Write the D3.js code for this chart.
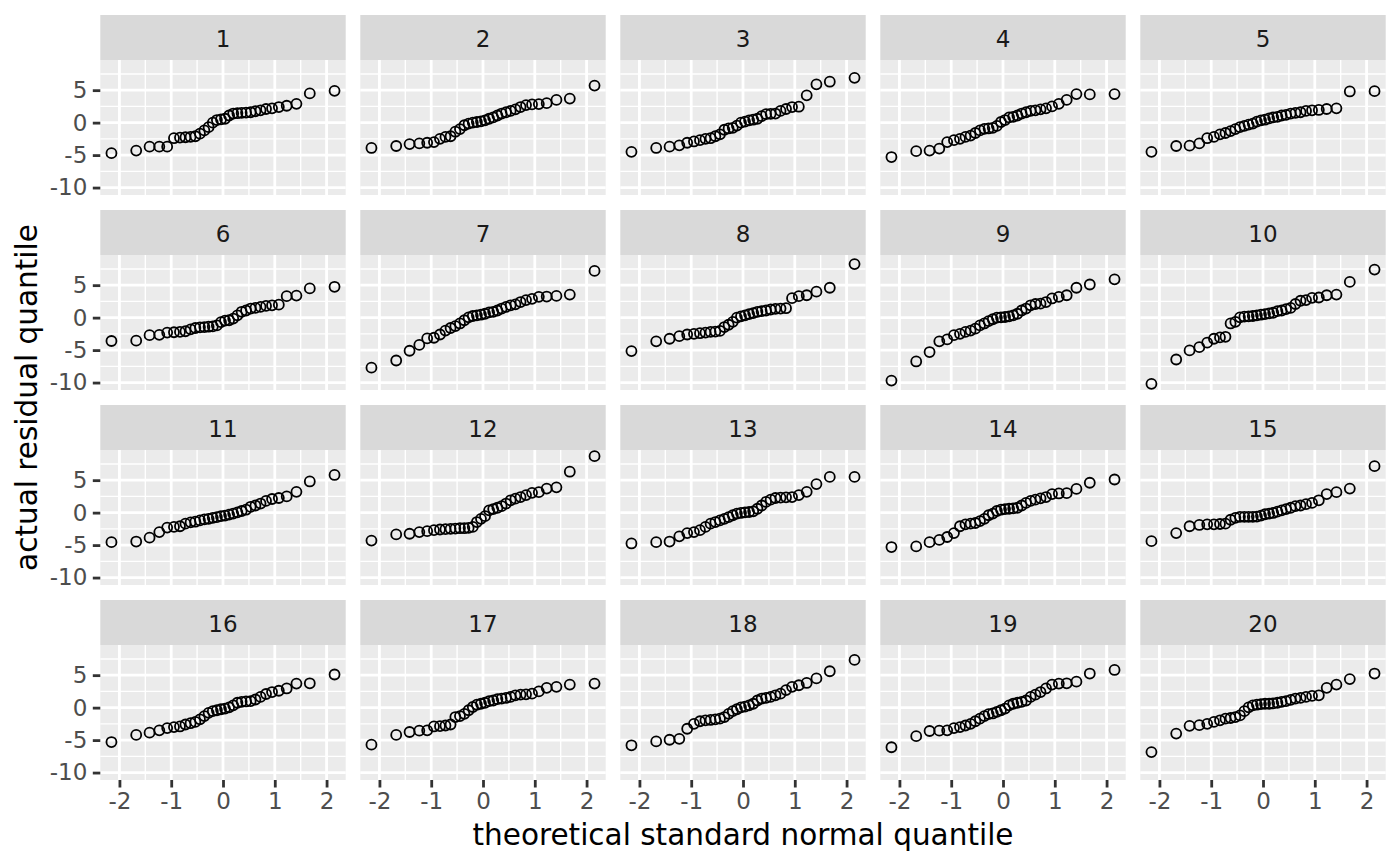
<!DOCTYPE html>
<html>
<head>
<meta charset="utf-8">
<script src="https://cdn.jsdelivr.net/npm/d3@7"></script>
<style>
  body { margin: 0; background: white; }
</style>
</head>
<body>
<div id="chart"></div>
<script>
// theoretical standard normal quantiles for 32 points (ppoints(32))
const theoreticalQuantiles = [
  -2.154, -1.676, -1.418, -1.230, -1.078, -0.947, -0.831, -0.725,
  -0.626, -0.534, -0.445, -0.360, -0.278, -0.197, -0.118, -0.039,
  0.039, 0.118, 0.197, 0.278, 0.360, 0.445, 0.534, 0.626,
  0.725, 0.831, 0.947, 1.078, 1.230, 1.418, 1.676, 2.154
];

// sorted residuals of each of the 20 panels
const residuals1 = [-4.7,-4.3,-3.7,-3.7,-3.7,-2.4,-2.3,-2.25,-2.2,-2.1,-1.7,-1.2,-0.7,0,0.4,0.5,0.6,1.1,1.4,1.45,1.5,1.55,1.6,1.75,1.9,2.1,2.2,2.4,2.6,2.9,4.5,4.9];
const residuals2 = [-3.9,-3.6,-3.3,-3.2,-3.1,-3.0,-2.5,-2.2,-2.1,-1.4,-1.0,-0.4,-0.15,0,0.1,0.2,0.35,0.6,0.8,1.1,1.4,1.6,1.8,2.05,2.4,2.7,2.8,2.85,3.0,3.5,3.7,5.7];
const residuals3 = [-4.5,-3.9,-3.7,-3.5,-3.1,-2.9,-2.7,-2.5,-2.4,-2.1,-1.8,-1.1,-0.9,-0.8,-0.45,0,0.15,0.35,0.45,0.6,1.0,1.3,1.35,1.4,1.8,2.1,2.4,2.45,4.2,5.9,6.3,6.9];
const residuals4 = [-5.3,-4.4,-4.3,-4.0,-3.0,-2.7,-2.5,-2.2,-2.0,-1.6,-1.2,-0.95,-0.9,-0.8,-0.5,0.1,0.4,0.8,0.9,1.1,1.4,1.6,1.8,1.9,2.05,2.2,2.5,2.9,3.5,4.4,4.35,4.4];
const residuals5 = [-4.5,-3.6,-3.55,-3.2,-2.4,-2.2,-1.8,-1.6,-1.3,-1.0,-0.7,-0.5,-0.3,-0.15,0.15,0.35,0.45,0.65,0.8,0.9,1.1,1.2,1.4,1.5,1.6,1.8,1.9,1.95,2.1,2.2,4.8,4.85];
const residuals6 = [-3.6,-3.55,-2.7,-2.65,-2.3,-2.25,-2.2,-2.1,-1.8,-1.6,-1.5,-1.45,-1.4,-1.35,-1.2,-0.7,-0.45,-0.4,-0.15,0.35,0.9,1.1,1.4,1.5,1.65,1.8,1.9,2.0,3.3,3.4,4.5,4.75];
const residuals7 = [-7.7,-6.6,-5.1,-4.2,-3.2,-3.1,-2.6,-2.0,-1.6,-1.3,-0.9,-0.4,0.05,0.25,0.35,0.45,0.6,0.8,0.9,1.1,1.4,1.65,1.9,2.05,2.4,2.7,2.9,3.2,3.25,3.35,3.55,7.2];
const residuals8 = [-5.15,-3.65,-3.25,-2.85,-2.6,-2.5,-2.4,-2.3,-2.2,-2.15,-2.05,-1.45,-1.1,-0.65,0,0.2,0.35,0.55,0.7,0.9,1.0,1.1,1.25,1.35,1.4,1.45,3.0,3.3,3.45,4.0,4.6,8.25];
const residuals9 = [-9.7,-6.75,-5.3,-3.65,-3.35,-2.7,-2.5,-2.2,-2.0,-1.7,-1.2,-0.9,-0.55,-0.25,0,0.05,0.1,0.2,0.35,0.6,1.1,1.4,1.9,2.1,2.15,2.4,2.95,3.2,3.45,4.6,5.1,5.9];
const residuals10 = [-10.2,-6.45,-5.05,-4.55,-3.85,-3.25,-3.05,-2.95,-0.9,-0.65,0.05,0.15,0.2,0.25,0.35,0.45,0.55,0.65,0.75,1.0,1.1,1.3,1.5,2.1,2.6,2.7,3.05,3.1,3.45,3.55,5.5,7.4];
const residuals11 = [-4.55,-4.45,-3.85,-3.0,-2.3,-2.2,-2.1,-1.7,-1.5,-1.4,-1.2,-1.05,-0.95,-0.8,-0.7,-0.55,-0.45,-0.3,-0.15,0.05,0.25,0.45,0.9,1.1,1.4,1.8,2.1,2.25,2.5,3.2,4.8,5.8];
const residuals12 = [-4.3,-3.35,-3.25,-3.0,-2.85,-2.7,-2.6,-2.55,-2.5,-2.45,-2.4,-2.4,-2.35,-2.2,-1.45,-0.95,-0.55,0.35,0.55,0.75,1.0,1.4,1.9,2.15,2.4,2.7,3.05,3.15,3.7,3.9,6.3,8.7];
const residuals13 = [-4.75,-4.55,-4.45,-3.65,-3.15,-3.0,-2.7,-2.2,-1.7,-1.45,-1.2,-0.95,-0.7,-0.4,-0.15,-0.05,0.05,0.1,0.2,0.6,1.1,1.65,2.0,2.25,2.3,2.35,2.4,2.7,3.2,4.4,5.5,5.5];
const residuals14 = [-5.3,-5.2,-4.55,-4.2,-3.75,-3.15,-2.1,-1.8,-1.7,-1.6,-1.3,-0.95,-0.4,-0.15,0.25,0.45,0.55,0.6,0.65,0.75,1.1,1.5,1.8,2.0,2.2,2.4,2.85,2.95,3.0,3.65,4.6,5.1];
const residuals15 = [-4.4,-3.15,-2.1,-1.9,-1.8,-1.8,-1.75,-1.7,-1.1,-0.8,-0.65,-0.65,-0.65,-0.65,-0.6,-0.45,-0.25,-0.15,-0.05,0.15,0.35,0.55,0.75,1.0,1.1,1.3,1.5,1.9,2.85,3.15,3.7,7.15];
const residuals16 = [-5.3,-4.2,-3.85,-3.5,-3.15,-3.0,-2.9,-2.6,-2.4,-2.2,-1.8,-1.3,-0.8,-0.55,-0.4,-0.25,-0.15,0.05,0.35,0.75,0.9,0.95,1.0,1.25,1.65,2.1,2.4,2.6,2.95,3.7,3.75,5.1];
const residuals17 = [-5.7,-4.2,-3.75,-3.55,-3.5,-2.9,-2.85,-2.75,-2.6,-1.45,-1.3,-0.95,-0.4,0.1,0.45,0.6,0.75,1.0,1.1,1.3,1.4,1.5,1.65,1.9,2.0,2.05,2.15,2.5,3.05,3.2,3.55,3.7];
const residuals18 = [-5.8,-5.2,-4.95,-4.8,-3.25,-2.5,-2.1,-1.95,-1.9,-1.8,-1.7,-1.45,-0.95,-0.55,-0.25,0.05,0.15,0.35,0.6,1.1,1.4,1.5,1.65,1.9,2.15,2.7,3.2,3.45,3.8,4.5,5.6,7.35];
const residuals19 = [-6.1,-4.4,-3.6,-3.55,-3.5,-3.15,-3.0,-2.75,-2.5,-2.1,-1.7,-1.3,-1.0,-0.9,-0.65,-0.4,-0.15,0.35,0.6,0.75,0.9,1.1,1.65,2.0,2.4,2.95,3.55,3.7,3.75,4.0,5.25,5.8];
const residuals20 = [-6.85,-4.0,-2.8,-2.7,-2.5,-2.2,-1.95,-1.7,-1.6,-1.45,-1.2,-0.55,0.05,0.35,0.45,0.55,0.6,0.6,0.65,0.75,0.9,1.0,1.2,1.4,1.5,1.65,1.8,1.9,3.05,3.55,4.4,5.25];

const panelLabels = ["1","2","3","4","5","6","7","8","9","10","11","12","13","14","15","16","17","18","19","20"];
const panelResiduals = [residuals1, residuals2, residuals3, residuals4, residuals5,
  residuals6, residuals7, residuals8, residuals9, residuals10,
  residuals11, residuals12, residuals13, residuals14, residuals15,
  residuals16, residuals17, residuals18, residuals19, residuals20];

const xMajorTicks = [-2, -1, 0, 1, 2];
const xMinorTicks = [-1.5, -0.5, 0.5, 1.5];
const yMajorTicks = [-10, -5, 0, 5];
const yMinorTicks = [-7.5, -2.5, 2.5, 7.5];

const X_TITLE = "theoretical standard normal quantile";
const Y_TITLE = "actual residual quantile";

const WIDTH = 1400;
const HEIGHT = 865;
const MARGIN = { TOP: 15, LEFT: 100.3, RIGHT: 14.3 };
const COLS = 5;
const ROWS = 4;
const GAP = 14.6;
const STRIP = 45;
const PANEL_H = 135;
const PANEL_W = (WIDTH - MARGIN.LEFT - MARGIN.RIGHT - GAP * (COLS - 1)) / COLS;
const FONT = "'DejaVu Sans', sans-serif";
const SMALL_TEXT = "23px";
const TITLE_TEXT = "29.5px";

const svg = d3.select("#chart")
  .append("svg")
  .attr("width", WIDTH)
  .attr("height", HEIGHT)
  .attr("viewBox", [0, 0, WIDTH, HEIGHT])
  .style("background-color", "white")
  .style("font-family", FONT);

// ggplot-style 5% expansion on both axes
function expand(ext) {
  const pad = (ext[1] - ext[0]) * 0.05;
  return [ext[0] - pad, ext[1] + pad];
}

const x = d3.scaleLinear()
  .domain(expand(d3.extent(theoreticalQuantiles)))
  .range([0, PANEL_W]);

const y = d3.scaleLinear()
  .domain(expand(d3.extent(panelResiduals.flat())))
  .range([PANEL_H, 0]);

panelResiduals.forEach((values, i) => {
  const col = i % COLS;
  const row = Math.floor(i / COLS);
  const g = svg.append("g")
    .attr("transform", `translate(${MARGIN.LEFT + col * (PANEL_W + GAP)}, ${MARGIN.TOP + row * (STRIP + PANEL_H + 15)})`);

  g.append("rect")
    .attr("width", PANEL_W)
    .attr("height", STRIP)
    .attr("fill", "#D9D9D9");

  g.append("text")
    .attr("x", PANEL_W / 2)
    .attr("y", STRIP / 2 + 1)
    .attr("text-anchor", "middle")
    .attr("dominant-baseline", "central")
    .attr("fill", "#1A1A1A")
    .style("font-size", SMALL_TEXT)
    .text(panelLabels[i]);

  const p = g.append("g").attr("transform", `translate(0, ${STRIP})`);

  p.append("rect")
    .attr("width", PANEL_W)
    .attr("height", PANEL_H)
    .attr("fill", "#EBEBEB");

  p.selectAll(".xminor").data(xMinorTicks).join("line")
    .attr("x1", d => x(d)).attr("x2", d => x(d))
    .attr("y1", 0).attr("y2", PANEL_H)
    .attr("stroke", "white").attr("stroke-width", 1.4);
  p.selectAll(".yminor").data(yMinorTicks).join("line")
    .attr("y1", d => y(d)).attr("y2", d => y(d))
    .attr("x1", 0).attr("x2", PANEL_W)
    .attr("stroke", "white").attr("stroke-width", 1.4);
  p.selectAll(".xmajor").data(xMajorTicks).join("line")
    .attr("x1", d => x(d)).attr("x2", d => x(d))
    .attr("y1", 0).attr("y2", PANEL_H)
    .attr("stroke", "white").attr("stroke-width", 2.8);
  p.selectAll(".ymajor").data(yMajorTicks).join("line")
    .attr("y1", d => y(d)).attr("y2", d => y(d))
    .attr("x1", 0).attr("x2", PANEL_W)
    .attr("stroke", "white").attr("stroke-width", 2.8);

  p.selectAll("circle").data(values).join("circle")
    .attr("cx", (d, j) => x(theoreticalQuantiles[j]))
    .attr("cy", d => y(d))
    .attr("r", 5)
    .attr("fill", "none")
    .attr("stroke", "black")
    .attr("stroke-width", 1.8);

  if (col === 0) {
    const ax = p.append("g")
      .call(d3.axisLeft(y).tickValues(yMajorTicks).tickSize(7.5).tickPadding(5.5));
    styleAxis(ax);
  }
  if (row === ROWS - 1) {
    const ax = p.append("g")
      .attr("transform", `translate(0, ${PANEL_H})`)
      .call(d3.axisBottom(x).tickValues(xMajorTicks).tickSize(7.5).tickPadding(5));
    styleAxis(ax);
  }
});

function styleAxis(ax) {
  ax.select(".domain").remove();
  ax.selectAll(".tick line").attr("stroke", "#333333").attr("stroke-width", 2.8);
  ax.selectAll(".tick text")
    .attr("fill", "#4D4D4D")
    .style("font-family", FONT)
    .style("font-size", SMALL_TEXT)
    .text(d => String(d));
}

svg.append("text")
  .attr("x", MARGIN.LEFT + (WIDTH - MARGIN.LEFT - MARGIN.RIGHT) / 2)
  .attr("y", 845)
  .attr("text-anchor", "middle")
  .attr("fill", "black")
  .style("font-size", TITLE_TEXT)
  .text(X_TITLE);

svg.append("text")
  .attr("transform", `translate(37, ${MARGIN.TOP + (ROWS * (STRIP + PANEL_H) + (ROWS - 1) * 15) / 2}) rotate(-90)`)
  .attr("text-anchor", "middle")
  .attr("fill", "black")
  .style("font-size", TITLE_TEXT)
  .text(Y_TITLE);
</script>
</body>
</html>
